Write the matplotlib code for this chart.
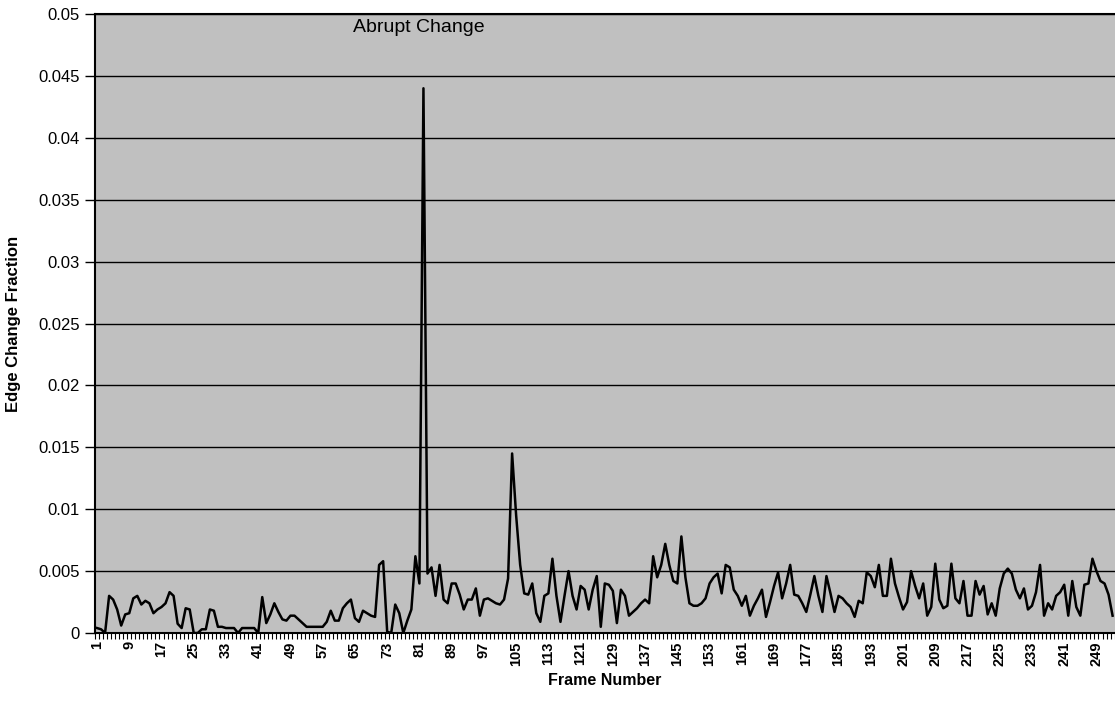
import numpy as np
import matplotlib
matplotlib.use("Agg")
import matplotlib.pyplot as plt
from matplotlib.ticker import FixedLocator, FuncFormatter

# edge change fraction per frame (frames 1..253)
edge_change = [
    0.0004, 0.0003, 0.0, 0.003, 0.0027, 0.0019, 0.0006, 0.0015, 0.0016, 0.0028,
    0.003, 0.0023, 0.0026, 0.0024, 0.0016, 0.0019, 0.0021, 0.0024, 0.0033, 0.003,
    0.00075, 0.0004, 0.002, 0.0019, 0.0, 0.0, 0.0003, 0.0003, 0.0019, 0.0018,
    0.0005, 0.0005, 0.0004, 0.0004, 0.0004, 0.0, 0.0004, 0.0004, 0.0004, 0.0004,
    0.0, 0.0029, 0.0008, 0.0015, 0.0024, 0.0017, 0.0011, 0.001, 0.0014, 0.0014,
    0.0011, 0.0008, 0.0005, 0.0005, 0.0005, 0.0005, 0.0005, 0.0009, 0.0018, 0.001,
    0.001, 0.002, 0.0024, 0.0027, 0.0012, 0.0009, 0.0018, 0.0016, 0.0014, 0.0013,
    0.0055, 0.0058, 0.0001, 0.0, 0.0023, 0.0016, 0.0, 0.001, 0.0019, 0.0062,
    0.004, 0.044, 0.0048, 0.0053, 0.003, 0.0055, 0.0027, 0.0024, 0.004, 0.004,
    0.0031, 0.0019, 0.0027, 0.0027, 0.0036, 0.0014, 0.0027, 0.0028, 0.0026, 0.0024,
    0.0023, 0.0027, 0.0044, 0.0145, 0.0095, 0.0055, 0.0032, 0.0031, 0.004, 0.0016,
    0.0009, 0.003, 0.0032, 0.006, 0.003, 0.0009, 0.003, 0.005, 0.003, 0.0019,
    0.0038, 0.0035, 0.0019, 0.0035, 0.0046, 0.0005, 0.004, 0.0039, 0.0034, 0.0008,
    0.0035, 0.003, 0.0014, 0.0017, 0.002, 0.0024, 0.0027, 0.0024, 0.0062, 0.0045,
    0.0055, 0.0072, 0.0055, 0.0042, 0.004, 0.0078, 0.0045, 0.0024, 0.0022, 0.0022,
    0.0024, 0.0028, 0.004, 0.0045, 0.0048, 0.0032, 0.0055, 0.0053, 0.0035, 0.003,
    0.0022, 0.003, 0.0014, 0.0022, 0.0028, 0.0035, 0.0013, 0.0025, 0.0038, 0.0049,
    0.0028, 0.004, 0.0055, 0.0031, 0.003, 0.0024, 0.0017, 0.0031, 0.0046, 0.003,
    0.0017, 0.0046, 0.0032, 0.0017, 0.003, 0.0028, 0.0024, 0.0021, 0.0013, 0.0026,
    0.0024, 0.0049, 0.0046, 0.0037, 0.0055, 0.003, 0.003, 0.006, 0.004, 0.0029,
    0.0019, 0.0025, 0.005, 0.0038, 0.0028, 0.004, 0.0014, 0.0021, 0.0056, 0.0027,
    0.002, 0.0022, 0.0056, 0.0028, 0.0024, 0.0042, 0.0014, 0.0014, 0.0042, 0.0031,
    0.0038, 0.0015, 0.0024, 0.0014, 0.0036, 0.0048, 0.0052, 0.0048, 0.0035, 0.0028,
    0.0036, 0.0019, 0.0022, 0.0033, 0.0055, 0.0014, 0.0024, 0.0019, 0.003, 0.0033,
    0.0039, 0.0014, 0.0042, 0.0021, 0.0014, 0.0039, 0.004, 0.006, 0.005, 0.0042,
    0.004, 0.0031, 0.0014,
]
frames = np.arange(1, len(edge_change) + 1)
x_ticks = list(range(1, 250, 8))  # 1, 9, 17, ... 249
y_ticks = [0, 0.005, 0.01, 0.015, 0.02, 0.025, 0.03, 0.035, 0.04, 0.045, 0.05]

plt.rcParams['font.family'] = ['Liberation Sans', 'DejaVu Sans']

fig = plt.figure(figsize=(11.15, 7.04), dpi=100)
ax = fig.add_axes([95 / 1115, 1 - 633 / 704, 1 - 95 / 1115, (633 - 14) / 704])
ax.set_facecolor('#c0c0c0')  # excel grey plot area

ax.plot(frames, edge_change, color='black', linewidth=1.8, zorder=3)

ax.set_xlim(0.5, 253.6)
ax.set_ylim(0, 0.05)
ax.set_yticks(y_ticks)
ax.yaxis.set_major_formatter(FuncFormatter(lambda v, p: '0' if v == 0 else ('%.3f' % v).rstrip('0')))
ax.yaxis.grid(True, color='black', linewidth=1.0)
ax.set_axisbelow(False)

ax.set_xticks(x_ticks)
ax.set_xticklabels([str(t) for t in x_ticks], rotation=90, fontsize=10.5, fontweight='bold')
ax.xaxis.set_minor_locator(FixedLocator(np.arange(0.5, 254, 1.0)))  # tick between categories
ax.tick_params(axis='x', which='major', length=0, pad=6)
ax.tick_params(axis='x', which='minor', length=4, width=0.8, direction='out')
ax.tick_params(axis='y', which='major', length=7, width=1.0, direction='out', labelsize=12, pad=4)

ax.spines['right'].set_visible(False)
for side in ['left', 'bottom', 'top']:
    ax.spines[side].set_linewidth(1.5)

ax.set_xlabel('Frame Number', fontsize=11.5, fontweight='bold', labelpad=5)
ax.set_ylabel('Edge Change Fraction', fontsize=12, fontweight='bold', labelpad=12)

ax.text(64.5, 0.0489, 'Abrupt Change', fontsize=14, ha='left', va='center', color='black')

fig.savefig('out.png', dpi=100)
